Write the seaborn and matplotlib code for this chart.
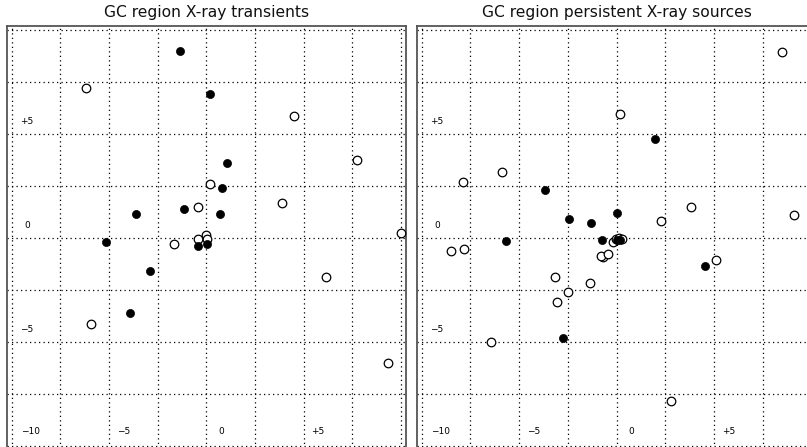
import numpy as np
import pandas as pd
import matplotlib
matplotlib.use("Agg")
import matplotlib.pyplot as plt
import seaborn as sns

# ---- data (degrees, Galactic-centre frame) ----
trans_filled_x = [-1.38, 0.21, 1.07, 0.82, -1.16, -3.60, 0.69, -5.18, -0.44, 0.04, -2.88, -3.94]
trans_filled_y = [8.99, 6.92, 3.62, 2.42, 1.38, 1.15, 1.14, -0.18, -0.38, -0.29, -1.57, -3.62]
trans_open_x = [-6.17, 4.50, 7.77, 0.18, 3.91, -0.44, 10.0, -0.04, 0.03, -0.44, -1.68, 6.14, -5.93, 9.35]
trans_open_y = [7.23, 5.87, 3.78, 2.58, 1.67, 1.50, 0.25, 0.14, -0.02, -0.05, -0.29, -1.89, -4.15, -5.98]

pers_filled_x = [1.96, -3.68, 0.00, -2.45, -1.33, -5.69, -0.77, 0.02, 0.17, 4.53, -2.75]
pers_filled_y = [4.75, 2.31, 1.19, 0.91, 0.74, -0.14, -0.10, -0.10, -0.07, -1.35, -4.82]
pers_open_x = [8.49, 0.17, -5.90, -7.90, 3.81, 9.11, 2.27, -8.51, -7.82, -0.19, -0.04, 0.12, 0.27,
               -0.69, -0.78, -0.43, 5.09, -3.18, -1.37, -2.48, -3.08, -6.45, 2.80]
pers_open_y = [8.96, 5.95, 3.19, 2.68, 1.51, 1.11, 0.82, -0.61, -0.50, -0.17, -0.05, 0.00, -0.02,
               -0.90, -0.87, -0.78, -1.07, -1.89, -2.18, -2.58, -3.06, -4.99, -7.85]

titles = ["GC region X-ray transients", "GC region persistent X-ray sources"]
x_label_vals = [-5, 0, 5]
x_label_txt = ["\u22125", "0", "+5"]
y_label_vals = [5, 0, -5]
y_label_txt = ["+5", "0", "\u22125"]
corner_txt = "\u221210"

sns.set_theme(style="white")
plt.rcParams['font.family'] = ['DejaVu Sans']

W, H = 807, 447
fig = plt.figure(figsize=(W / 100, H / 100), dpi=100)

ax_l = fig.add_axes([7 / W, (447 - 450.3) / H, 398.7 / W, 424.3 / H])
ax_r = fig.add_axes([416.8 / W, (447 - 450.3) / H, 399.75 / W, 424.3 / H])

panels = [
    (ax_l, trans_filled_x, trans_filled_y, trans_open_x, trans_open_y, titles[0]),
    (ax_r, pers_filled_x, pers_filled_y, pers_open_x, pers_open_y, titles[1]),
]

grid_vals = np.arange(-10, 10.01, 2.5)

for ax, fx, fy, ox, oy, title in panels:
    ax.set_xlim(-10.25, 10.25)
    ax.set_ylim(-10.2, 10.2)
    ax.set_facecolor("white")
    for g in grid_vals:
        ax.axvline(g, color="black", lw=0.9, ls=(0, (1, 2.6)), zorder=1)
        ax.axhline(g, color="black", lw=0.9, ls=(0, (1, 2.6)), zorder=1)
    df_f = pd.DataFrame({"x": fx, "y": fy})
    df_o = pd.DataFrame({"x": ox, "y": oy})
    sns.scatterplot(data=df_o, x="x", y="y", ax=ax, s=38, marker="o",
                    facecolor="white", edgecolor="black", linewidth=0.9, zorder=3, clip_on=False)
    sns.scatterplot(data=df_f, x="x", y="y", ax=ax, s=34, marker="o",
                    color="black", edgecolor="black", linewidth=0.5, zorder=4)
    ax.set_xlabel("")
    ax.set_ylabel("")
    ax.set_xticks([])
    ax.set_yticks([])
    for sp in ax.spines.values():
        sp.set_visible(True)
        sp.set_color("#555555")
        sp.set_linewidth(1.3)
    for v, t in zip(x_label_vals, x_label_txt):
        ax.text(v + 0.75, -9.3, t, ha="center", va="center", fontsize=6.5, color="black")
    for v, t in zip(y_label_vals, y_label_txt):
        ax.text(-9.22, v + 0.6, t, ha="center", va="center", fontsize=6.5, color="black")
    ax.text(-9.05, -9.3, corner_txt, ha="center", va="center", fontsize=6.5, color="black")
    bb = ax.get_position()
    fig.text(bb.x0 + bb.width / 2, 1 - 12 / H, title, ha="center", va="center",
             fontsize=11.2, color="#111111")

fig.savefig("out.png", dpi=100)
